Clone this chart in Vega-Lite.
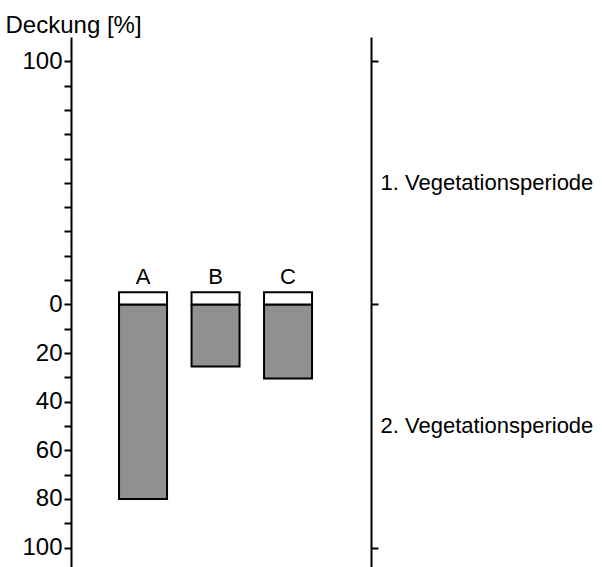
{
  "$schema": "https://vega.github.io/schema/vega-lite/v6.json",
  "width": 300,
  "height": 530,
  "autosize": {"type": "none"},
  "padding": {"left": 71, "top": 37, "right": 231, "bottom": 0},
  "background": "white",
  "config": {"view": {"stroke": null}},
  "data": {
    "values": [
      {"group": "A", "vp1": 5, "vp2": -80},
      {"group": "B", "vp1": 5, "vp2": -25.5},
      {"group": "C", "vp1": 5, "vp2": -30.5}
    ]
  },
  "encoding": {
    "x": {
      "field": "group",
      "type": "nominal",
      "scale": {"paddingInner": 0.338, "paddingOuter": 0.738, "align": 0.449, "round": false},
      "axis": null
    }
  },
  "layer": [
    {
      "mark": {"type": "bar", "fill": "#909090", "stroke": "black", "strokeWidth": 2},
      "encoding": {
        "y": {
          "field": "vp2",
          "type": "quantitative",
          "scale": {"domain": [-108, 110], "nice": false, "zero": false},
          "axis": {
            "orient": "left",
            "values": [-100, -90, -80, -70, -60, -50, -40, -30, -20, -10, 0, 10, 20, 30, 40, 50, 60, 70, 80, 90, 100],
            "labelExpr": "indexof([100, 0, -20, -40, -60, -80, -100], datum.value) >= 0 ? format(abs(datum.value), 'd') : ''",
            "labelFont": "Liberation Sans",
            "labelFontSize": 24,
            "labelColor": "black",
            "labelPadding": 2,
            "labelFlush": false,
            "labelOverlap": false,
            "labelBound": false,
            "labelLimit": 0,
            "tickSize": 7,
            "tickWidth": 2,
            "tickColor": "black",
            "domainColor": "black",
            "domainWidth": 2,
            "grid": false,
            "title": "Deckung [%]",
            "titleAngle": 0,
            "titleAlign": "left",
            "titleBaseline": "alphabetic",
            "titleX": -66,
            "titleY": -5,
            "titleFont": "Liberation Sans",
            "titleFontSize": 24,
            "titleFontWeight": "normal",
            "titleColor": "black",
            "titleLimit": 0
          }
        },
        "y2": {"datum": 0}
      }
    },
    {
      "mark": {"type": "bar", "fill": "white", "stroke": "black", "strokeWidth": 2},
      "encoding": {
        "y": {
          "field": "vp1",
          "type": "quantitative",
          "axis": {
            "orient": "right",
            "values": [100, 50, 0, -50, -100],
            "labelExpr": "datum.value == 50 ? '1. Vegetationsperiode' : (datum.value == -50 ? '2. Vegetationsperiode' : '')",
            "labelFont": "Liberation Sans",
            "labelFontSize": 22,
            "labelColor": "black",
            "labelPadding": 2,
            "labelFlush": false,
            "labelOverlap": false,
            "labelBound": false,
            "labelLimit": 0,
            "tickSize": 7,
            "tickWidth": 2,
            "tickColor": {"condition": {"test": "abs(datum.value) == 50", "value": "transparent"}, "value": "black"},
            "domainColor": "black",
            "domainWidth": 2,
            "grid": false,
            "title": null
          }
        },
        "y2": {"datum": 0}
      }
    },
    {
      "mark": {"type": "text", "font": "Liberation Sans", "fontSize": 22, "color": "black", "align": "center", "baseline": "alphabetic", "dy": -8},
      "encoding": {
        "y": {"field": "vp1", "type": "quantitative", "axis": null},
        "text": {"field": "group"}
      }
    },
    {
      "mark": {"type": "rule", "color": "black", "strokeWidth": 2},
      "encoding": {
        "y": {"datum": 0, "axis": null}
      }
    }
  ],
  "resolve": {"axis": {"y": "independent"}}
}
